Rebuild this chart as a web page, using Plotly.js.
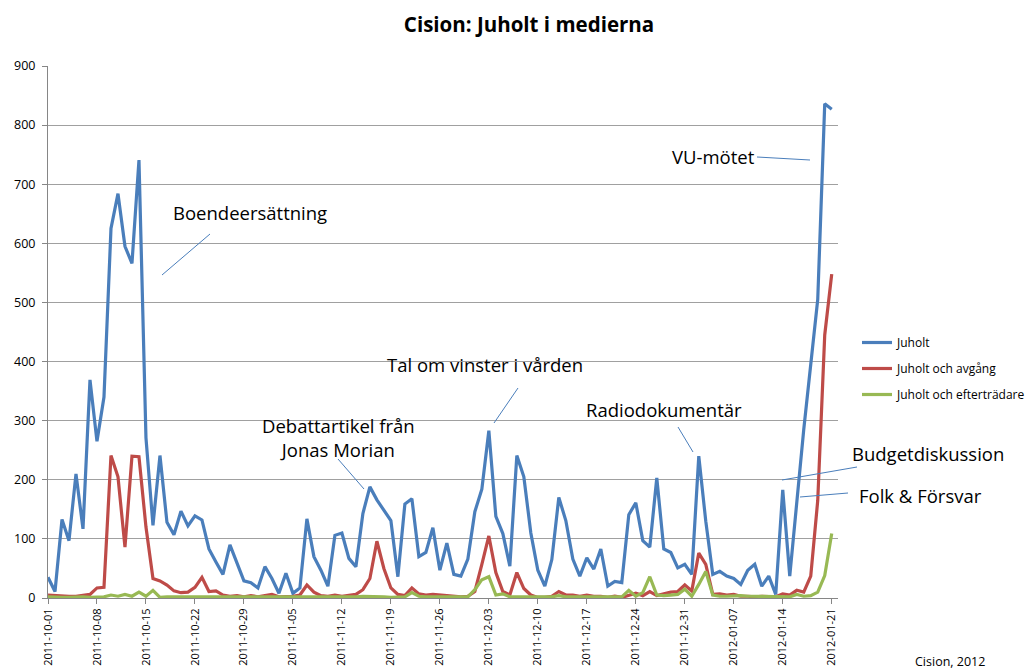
<!DOCTYPE html>
<html>
<head>
<meta charset="utf-8">
<script src="https://cdn.plot.ly/plotly-3.0.1.min.js"></script>
<style>
  html, body { margin: 0; padding: 0; background: #fff; }
  #chart { width: 1026px; height: 671px; }
</style>
</head>
<body>
<div id="chart"></div>
<script>
// Daily series, first day 2011-10-01, one value per day up to 2012-01-21
const startDate = '2011-10-01';
const seriesNames = ['Juholt', 'Juholt och avgång', 'Juholt och efterträdare'];

const juholt = [
  35, 11, 133, 97, 210, 117, 369, 265, 340, 625,
  684, 595, 566, 741, 271, 123, 241, 128, 107, 147,
  122, 139, 132, 83, 61, 40, 90, 59, 29, 26,
  17, 53, 33, 8, 42, 8, 17, 134, 70, 47,
  20, 106, 110, 67, 53, 143, 188, 166, 149, 131,
  36, 159, 168, 70, 77, 119, 47, 93, 40, 37,
  66, 146, 184, 283, 138, 109, 54, 241, 205, 110,
  47, 20, 65, 170, 131, 66, 37, 68, 49, 83,
  20, 28, 26, 141, 161, 97, 86, 203, 83, 77,
  51, 57, 40, 240, 130, 40, 45, 37, 33, 23,
  47, 57, 20, 37, 6, 183, 37, 165, 285, 395,
  505, 836, 827
];

const juholtAvgang = [
  5, 4, 3, 3, 3, 4, 6, 17, 18, 241,
  205, 86, 240, 239, 120, 33, 29, 22, 12, 9,
  10, 18, 35, 11, 12, 5, 3, 4, 2, 4,
  2, 4, 6, 2, 2, 3, 5, 22, 10, 4,
  3, 5, 3, 4, 6, 14, 33, 96, 50, 17,
  6, 4, 17, 7, 5, 6, 5, 3, 2, 2,
  3, 11, 57, 105, 43, 11, 5, 43, 16, 5,
  1, 1, 3, 11, 5, 5, 3, 5, 3, 3,
  1, 3, 1, 5, 8, 4, 11, 4, 7, 10,
  11, 22, 12, 76, 57, 6, 7, 5, 6, 3,
  3, 2, 3, 2, 2, 7, 5, 13, 10, 37,
  165, 445, 548
];

const juholtEfter = [
  2, 1, 1, 1, 2, 2, 1, 2, 2, 5,
  3, 6, 3, 10, 3, 13, 1, 2, 2, 2,
  1, 1, 1, 1, 1, 1, 1, 1, 1, 1,
  1, 1, 2, 1, 1, 1, 2, 2, 1, 1,
  1, 2, 2, 1, 2, 3, 3, 2, 2, 1,
  2, 2, 9, 3, 2, 2, 2, 1, 1, 1,
  2, 14, 31, 36, 5, 7, 2, 2, 2, 2,
  1, 1, 2, 4, 2, 2, 2, 2, 1, 2,
  1, 2, 2, 13, 3, 9, 36, 5, 4, 5,
  6, 15, 3, 23, 45, 5, 3, 3, 4, 4,
  3, 3, 2, 2, 2, 3, 2, 6, 3, 4,
  10, 38, 109
];

const seriesValues = [juholt, juholtAvgang, juholtEfter];
const seriesColors = ['#4A7EBB', '#BE4B48', '#98B954'];

const callouts = ['Boendeersättning', 'Debattartikel från<br>Jonas Morian', 'Tal om vinster i vården',
  'Radiodokumentär', 'VU-mötet', 'Budgetdiskussion', 'Folk & Försvar'];
const sourceNote = 'Cision, 2012';
const chartTitle = 'Cision: Juholt i medierna';

// ---- layout helpers (pixel -> paper) ----
const W = 1026, H = 671;
const L = 48, R = 838, T = 66, B = 598;
const px = x => (x - L) / (R - L);
const py = y => (B - y) / (B - T);

const FONT = 'Open Sans, Liberation Sans, sans-serif';

const traces = seriesValues.map((vals, i) => ({
  type: 'scatter',
  mode: 'lines',
  name: seriesNames[i],
  legendgroup: 'g' + i,
  x0: startDate,
  dx: 86400000,
  y: vals,
  line: { color: seriesColors[i], width: 3.2 },
  hoverinfo: 'x+y+name'
}));

// callout text positions (pixel centres) and leader lines
const calloutPos = [
  [250, 213], [338, 437], [485, 364], [664, 409], [713, 156], [928, 453], [921, 495]
];
const leaders = [
  [[210, 234], [162, 275]],
  [[338, 459], [364, 489]],
  [[518, 388], [494, 423]],
  [[678, 427], [693, 452]],
  [[757, 157], [810, 160]],
  [[857, 467], [782, 480]],
  [[848, 493], [800, 497]]
];

const annotations = callouts.map((t, i) => ({
  text: t,
  xref: 'paper', yref: 'paper',
  x: px(calloutPos[i][0]), y: py(calloutPos[i][1]),
  xanchor: 'center', yanchor: 'middle',
  showarrow: false,
  align: 'center',
  font: { family: FONT, size: 18.5, color: '#000' }
}));
annotations.push({
  text: sourceNote, xref: 'paper', yref: 'paper',
  x: px(950), y: py(661), xanchor: 'center', yanchor: 'middle',
  showarrow: false, font: { family: FONT, size: 12.5, color: '#000' }
});

const shapes = leaders.map(([a, b]) => ({
  type: 'line', xref: 'paper', yref: 'paper',
  x0: px(a[0]), y0: py(a[1]), x1: px(b[0]), y1: py(b[1]),
  line: { color: '#4A7EBB', width: 1 }
}));

const layout = {
  width: W, height: H,
  paper_bgcolor: '#fff', plot_bgcolor: '#fff',
  margin: { l: L, r: W - R, t: T, b: H - B, pad: 0, autoexpand: false },
  title: {
    text: '<b>' + chartTitle + '</b>',
    font: { family: FONT, size: 20.5, color: '#000' },
    x: 529 / W, xanchor: 'center', y: 1 - 25 / H, yanchor: 'middle'
  },
  xaxis: {
    type: 'date',
    range: ['2011-10-01', '2012-01-21 21:30'],
    tick0: '2011-10-01', dtick: 7 * 86400000,
    tickformat: '%Y-%m-%d',
    tickangle: -90,
    showgrid: false, zeroline: false,
    showline: true, linecolor: '#868686', linewidth: 1,
    ticks: 'outside', ticklen: 5, tickcolor: '#868686',
    tickfont: { family: FONT, size: 11, color: '#000' }
  },
  yaxis: {
    range: [0, 900], dtick: 100,
    showgrid: true, gridcolor: '#a0a0a0', gridwidth: 1,
    zeroline: false,
    showline: true, linecolor: '#868686', linewidth: 1,
    ticks: 'outside', ticklen: 5, tickcolor: '#868686',
    ticklabelstandoff: 4,
    tickfont: { family: FONT, size: 12.5, color: '#000' }
  },
  legend: {
    x: px(857), y: py(328), xanchor: 'left', yanchor: 'top',
    traceorder: 'grouped', tracegroupgap: 7,
    itemwidth: 30,
    bgcolor: 'rgba(0,0,0,0)',
    font: { family: FONT, size: 12, color: '#000' }
  },
  showlegend: true,
  annotations: annotations,
  shapes: shapes
};

Plotly.newPlot('chart', traces, layout, { displayModeBar: false, staticPlot: false });
</script>
</body>
</html>
